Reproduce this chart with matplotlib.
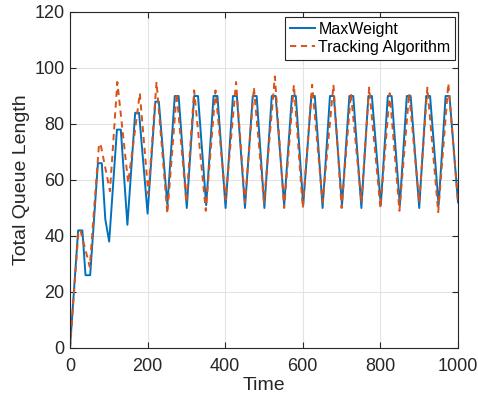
import matplotlib.pyplot as plt

plt.rcParams['font.family'] = ['Liberation Sans', 'DejaVu Sans']

# MaxWeight: polyline vertices
mw_t = [0, 21, 32, 40, 52, 72, 82, 91, 101, 121, 131, 148, 168, 178, 200,
        220, 229, 251, 270, 280, 301, 320, 330, 351, 370, 380, 401, 420, 430,
        451, 471, 481, 501, 520, 530, 552, 572, 582, 601, 622, 631, 651,
        670, 680, 701, 720, 730, 751, 769, 778, 801, 819, 829, 850, 868, 878,
        900, 918, 928, 950, 968, 978, 1000]
mw_q = [0, 42, 42, 26, 26, 66, 66, 46, 38, 78, 78, 44, 84, 84, 48,
        88, 88, 51, 90, 90, 50, 90, 90, 51, 90, 90, 50, 90, 90,
        50, 90, 90, 50, 90, 90, 51, 90, 90, 51, 90, 90, 50,
        90, 90, 51, 90, 90, 50, 90, 90, 51, 90, 90, 51, 90, 90,
        50, 90, 90, 51, 90, 90, 52]

# Tracking Algorithm
tr_t = [0, 22, 27, 51, 75, 80, 103, 122, 150, 180, 202, 223, 251, 275, 300,
        320, 350, 375, 401, 428, 451, 474, 500, 528, 552, 577, 600, 624, 651,
        679, 700, 724, 751, 771, 800, 824, 849, 874, 900, 921, 949, 975, 1000]
tr_q = [0, 42, 42, 29, 73, 72, 56, 95, 59, 91, 55, 95, 48, 91, 52,
        92, 49, 92, 53, 95, 52, 93, 52, 97, 50, 94, 50, 94, 52,
        94, 50, 91, 52, 93, 50, 91, 49, 91, 52, 93, 48.5, 94.5, 52]

fig = plt.figure(figsize=(4.78, 4.0), dpi=100)
ax = fig.add_axes([0.1464, 0.13, 0.8118, 0.84])

ax.plot(mw_t, mw_q, color='#0072BD', lw=1.4, label='MaxWeight')
ax.plot(tr_t, tr_q, color='#D95319', lw=1.4, ls=(0, (3.2, 2.4)), label='Tracking Algorithm')

ax.set_xlim(0, 1000)
ax.set_ylim(0, 120)
ax.set_xticks(range(0, 1001, 200))
ax.set_yticks(range(0, 121, 20))
ax.grid(True, color='#e3e3e3', lw=0.8)
ax.set_axisbelow(True)
ax.tick_params(direction='in', top=True, right=True, length=4, width=0.8,
               labelsize=13, colors='#262626')
ax.tick_params(axis='x', pad=7)
ax.tick_params(axis='y', pad=4)
for s in ax.spines.values():
    s.set_color('#262626')
    s.set_linewidth(0.8)

ax.set_xlabel('Time', fontsize=14, color='#262626', labelpad=2)
ax.set_ylabel('Total Queue Length', fontsize=14, color='#262626', labelpad=3)

leg = ax.legend(loc='upper right', bbox_to_anchor=(0.993, 0.985), fontsize=11.5,
                handlelength=1.6, handletextpad=0.2, borderpad=0.3,
                labelspacing=0.2, fancybox=False, framealpha=1,
                edgecolor='#262626', borderaxespad=0)
leg.get_frame().set_linewidth(0.8)

fig.savefig('out.png', dpi=100)
